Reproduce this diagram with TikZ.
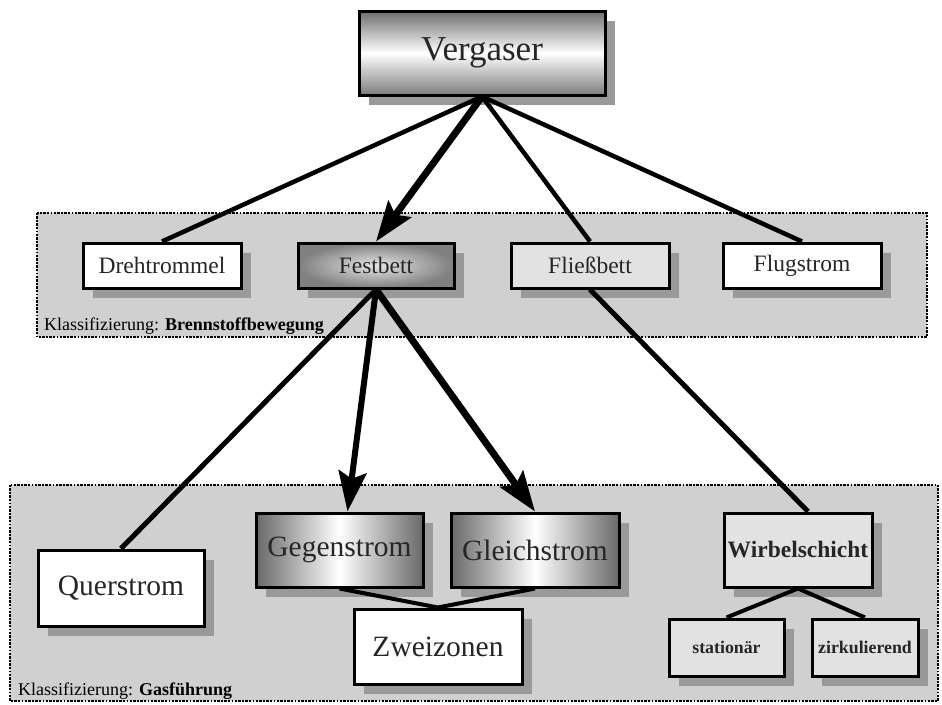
\documentclass[tikz,border=0pt]{standalone}
\usepackage{fontspec}
\setmainfont{Liberation Serif}
\usetikzlibrary{arrows.meta,shadows}
\definecolor{panelgray}{HTML}{D0D0D0}
\definecolor{lightbox}{HTML}{E2E2E2}
\definecolor{shadowgray}{HTML}{999999}
\definecolor{darkshade}{HTML}{6E6E6E}
\begin{document}
\begin{tikzpicture}[x=1pt,y=-1pt,
  panel/.style={fill=panelgray, draw=black, line width=2.2pt,
    dash pattern=on 2.4pt off 1pt on 2.4pt off 1pt on 2.4pt off 1pt on 2.4pt off 1pt on 2.4pt off 2pt on 1pt off 2pt},
  box/.style={draw=black, line width=3pt, inner sep=0pt, text=black!85,
    drop shadow={shadow xshift=10pt, shadow yshift=-10pt, fill=shadowgray, opacity=1}},
  whitebox/.style={box, fill=white},
  greybox/.style={box, fill=lightbox},
  vshade/.style={box, top color=darkshade, bottom color=darkshade!90, middle color=white},
  hshade/.style={box, left color=darkshade!95!black, right color=darkshade!95!black, middle color=white},
  rshade/.style={box, inner color=white!90!black, outer color=black!50},
  big/.style={font=\fontsize{35}{40}\selectfont},
  med/.style={font=\fontsize{23.5}{27}\selectfont},
  large/.style={font=\fontsize{29.5}{33}\selectfont},
  bmed/.style={font=\bfseries\fontsize{23.5}{27}\selectfont},
  bsmall/.style={font=\bfseries\fontsize{17.8}{20}\selectfont},
  lbl/.style={font=\fontsize{18}{20}\selectfont, anchor=west, inner sep=0pt},
  conn/.style={line width=4.5pt},
  arr/.style={-{Stealth[length=40pt,width=28pt,inset=7pt]}}
]
\useasboundingbox (0,0) rectangle (942,704);

% panels
\draw[panel] (37,213) rectangle (927,337);
\draw[panel] (10,485) rectangle (938,701);

% labels
\node[lbl] (lblA) at (44,326) {Klassifizierung: \textbf{Brennstoffbewegung}};
\node[lbl] (lblB) at (18,691) {Klassifizierung: \textbf{Gasführung}};

% nodes
\node[vshade, big, minimum width=246pt, minimum height=84pt] (verg) at (482,53) {Vergaser};

\node[whitebox, med, minimum width=158pt, minimum height=45pt] (dreh) at (162,265.5) {Drehtrommel};
\node[rshade, med, minimum width=156pt, minimum height=45pt] (fest) at (376,265.5) {Festbett};
\node[greybox, med, minimum width=158pt, minimum height=45pt] (flies) at (590,265.5) {Fließbett};
\node[whitebox, med, minimum width=158pt, minimum height=45pt] (flug) at (802,265.5) {Flugstrom};

\node[whitebox, large, minimum width=166pt, minimum height=76pt] (quer) at (121,588) {Querstrom};
\node[hshade, large, minimum width=167pt, minimum height=74pt] (geg) at (339.5,550) {Gegenstrom};
\node[hshade, large, minimum width=168pt, minimum height=74pt] (glei) at (535,550) {Gleichstrom};
\node[whitebox, large, minimum width=168pt, minimum height=75pt] (zwei) at (438,646.5) {Zweizonen};
\node[greybox, bmed, minimum width=148pt, minimum height=74pt] (wirb) at (798,550) {Wirbelschicht};
\node[greybox, bsmall, minimum width=115pt, minimum height=57pt] (stat) at (726.5,647.5) {stationär};
\node[greybox, bsmall, minimum width=106pt, minimum height=57pt] (zirk) at (865,647.5) {zirkulierend};

% connectors
\draw[conn] (verg.south) -- (dreh.north);
\draw[conn, line width=7pt, arr] (verg.south) -- (fest.north);
\draw[conn] (verg.south) -- (flies.north);
\draw[conn] (verg.south) -- (flug.north);

\draw[conn, line width=5pt] (fest.south) -- (quer.north);
\draw[conn, line width=6pt, arr] (fest.south) -- ([xshift=8pt]geg.north);
\draw[conn, line width=7pt, arr] (fest.south) -- (glei.north);
\draw[conn, line width=5pt] (flies.south) -- ([xshift=10pt]wirb.north);

\draw[conn, line width=4pt] (geg.south) -- (zwei.north);
\draw[conn, line width=4pt] (glei.south) -- (zwei.north);
\draw[conn, line width=4pt] (wirb.south) -- (stat.north);
\draw[conn, line width=4pt] (wirb.south) -- (zirk.north);
\end{tikzpicture}
\end{document}
